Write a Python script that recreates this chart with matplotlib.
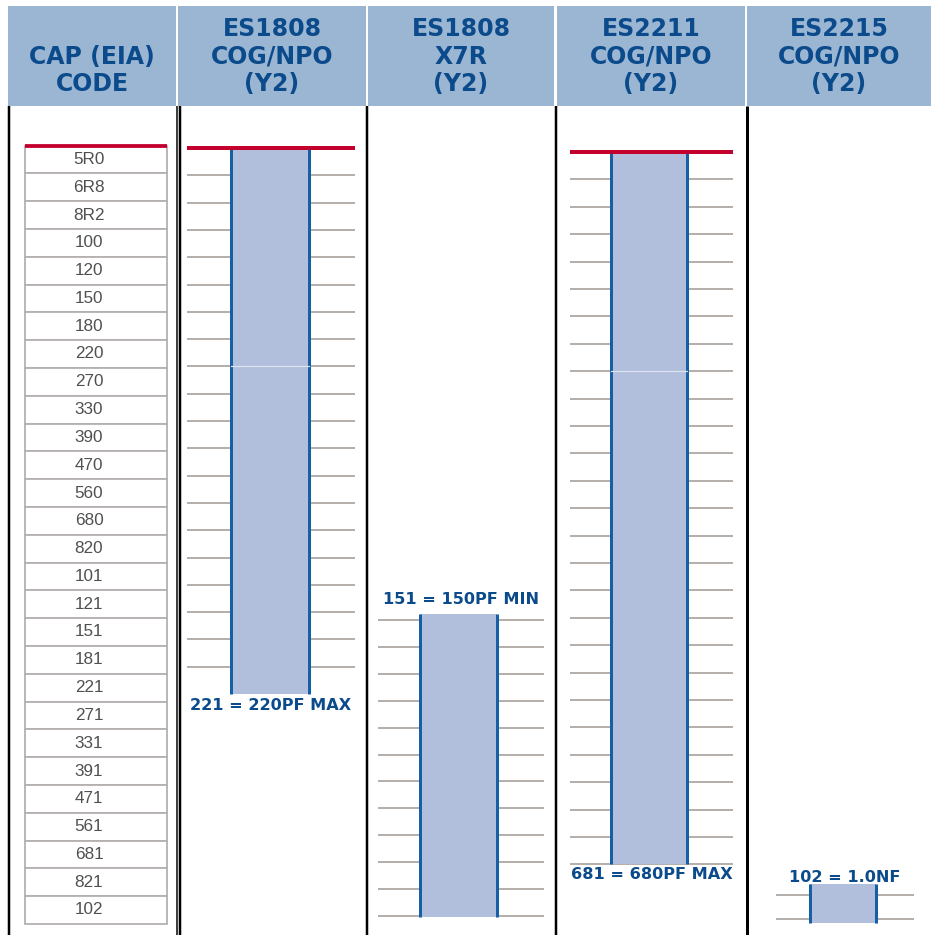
import numpy as np
import matplotlib
matplotlib.use("Agg")
import matplotlib.pyplot as plt
from matplotlib.patches import Rectangle
from matplotlib.transforms import Affine2D

# EIA capacitance codes, top to bottom
codes = ["5R0", "6R8", "8R2", "100", "120", "150", "180", "220", "270", "330",
         "390", "470", "560", "680", "820", "101", "121", "151", "181", "221",
         "271", "331", "391", "471", "561", "681", "821", "102"]

headers = [["CAP (EIA)", "CODE"],
           ["ES1808", "COG/NPO", "(Y2)"],
           ["ES1808", "X7R", "(Y2)"],
           ["ES2211", "COG/NPO", "(Y2)"],
           ["ES2215", "COG/NPO", "(Y2)"]]

# capacitance range of each part: first code, last code
part_ranges = [("5R0", "221"), ("151", "102"), ("5R0", "681"), ("102", "102")]
range_labels = ["221 = 220PF MAX", "151 = 150PF MIN", "681 = 680PF MAX", "102 = 1.0NF"]

HEAD_BG = "#9bb6d3"
HEAD_FG = "#0b4a8b"
BAR_FILL = "#b1bfdd"
BAR_EDGE = "#155fa7"
TICK_GRAY = "#b6b0ad"
RED = "#c3002d"
PX = 0.72  # one pixel in points at dpi 100

fig = plt.figure(figsize=(9.31, 9.35), dpi=100)
ax = fig.add_axes([0, 0, 1, 1])
ax.set_xlim(0, 931)
ax.set_ylim(935, 0)
ax.axis("off")

# header cells
head_cols = [(8, 176), (178, 366), (368, 554), (557, 745), (747, 931)]
for (x0, x1), lines in zip(head_cols, headers):
    ax.add_patch(Rectangle((x0, 6), x1 - x0, 100, color=HEAD_BG, lw=0))
    xc = (x0 + x1) / 2
    ys = [29, 57, 84][3 - len(lines):]
    for y, t in zip(ys, lines):
        ax.text(xc, y, t, ha="center", va="center", fontsize=17,
                fontweight="bold", color=HEAD_FG, family="DejaVu Sans")

# body column borders
for x, w in [(8.5, 2.5), (176.5, 1.5), (179.5, 2.5), (367, 2.5), (555.5, 2.5), (746.5, 3)]:
    ax.plot([x, x], [106, 935], color="black", lw=w * PX, solid_capstyle="butt")


def rows_trans(top, pitch):
    # x in pixels, y in code rows
    return Affine2D().scale(1, pitch).translate(0, top) + ax.transData


# code table in the first column
t1 = rows_trans(145.5, 27.8)
for i, c in enumerate(codes):
    ax.add_patch(Rectangle((25, i), 142, 1, transform=t1, facecolor="white",
                           edgecolor="#b5b1af", lw=1.8 * PX))
    ax.text(89, i + 0.5, c, transform=t1, ha="center", va="center",
            fontsize=12.3, color="#505050", family="Liberation Sans")
ax.plot([25, 167], [0, 0], transform=t1, color=RED, lw=3.8 * PX, solid_capstyle="butt")


def part_column(rng, label, tick_x, bar_x, top, pitch, pad, ticks, red_top, label_dy):
    tr = rows_trans(top, pitch)
    i0 = codes.index(rng[0])
    i1 = codes.index(rng[1]) + 1
    for k in ticks(i0, i1):
        ax.plot(tick_x, [k, k], transform=tr, color=TICK_GRAY, lw=2 * PX,
                solid_capstyle="butt", zorder=2)
    y0, y1 = i0 - pad[0], i1 + pad[1]
    ax.add_patch(Rectangle((bar_x[0], y0), bar_x[1] - bar_x[0], y1 - y0,
                           transform=tr, color=BAR_FILL, lw=0, zorder=3))
    for x in bar_x:
        ax.plot([x, x], [y0, y1], transform=tr, color=BAR_EDGE, lw=3 * PX,
                solid_capstyle="butt", zorder=4)
    if red_top:
        ax.plot(tick_x, [i0, i0], transform=tr, color=RED, lw=4 * PX,
                solid_capstyle="butt", zorder=5)
        # joint between the two halves of the picture
        if i1 - i0 > 9:
            ax.plot(bar_x, [i0 + 8, i0 + 8], transform=tr, color="#dde3f0",
                    lw=1.2 * PX, zorder=4)
    ly = i1 + label_dy if label_dy > 0 else i0 + label_dy
    ax.text((tick_x[0] + tick_x[1]) / 2, ly, label, transform=tr, ha="center",
            va="center", fontsize=11.6, fontweight="bold", color=HEAD_FG,
            family="DejaVu Sans", zorder=6)


inner = lambda a, b: range(a + 1, b)
inner_bottom = lambda a, b: range(a + 1, b + 1)
every = lambda a, b: range(a, b + 1)

part_column(part_ranges[0], range_labels[0], [187, 355], [231, 309],
            148, 27.3, (0, 0), inner, True, 0.42)
part_column(part_ranges[1], range_labels[1], [378, 544], [420, 497],
            620 - 17 * 26.9, 26.9, (0.22, 0.04), every, False, -0.75)
part_column(part_ranges[2], range_labels[2], [570, 733], [611, 687],
            152, 27.4, (0, 0), inner_bottom, True, 0.36)
part_column(part_ranges[3], range_labels[3], [776, 914], [810, 876],
            895 - 27 * 24, 24, (0.46, 0.17), every, False, -0.75)

plt.savefig("out.png", dpi=100)
